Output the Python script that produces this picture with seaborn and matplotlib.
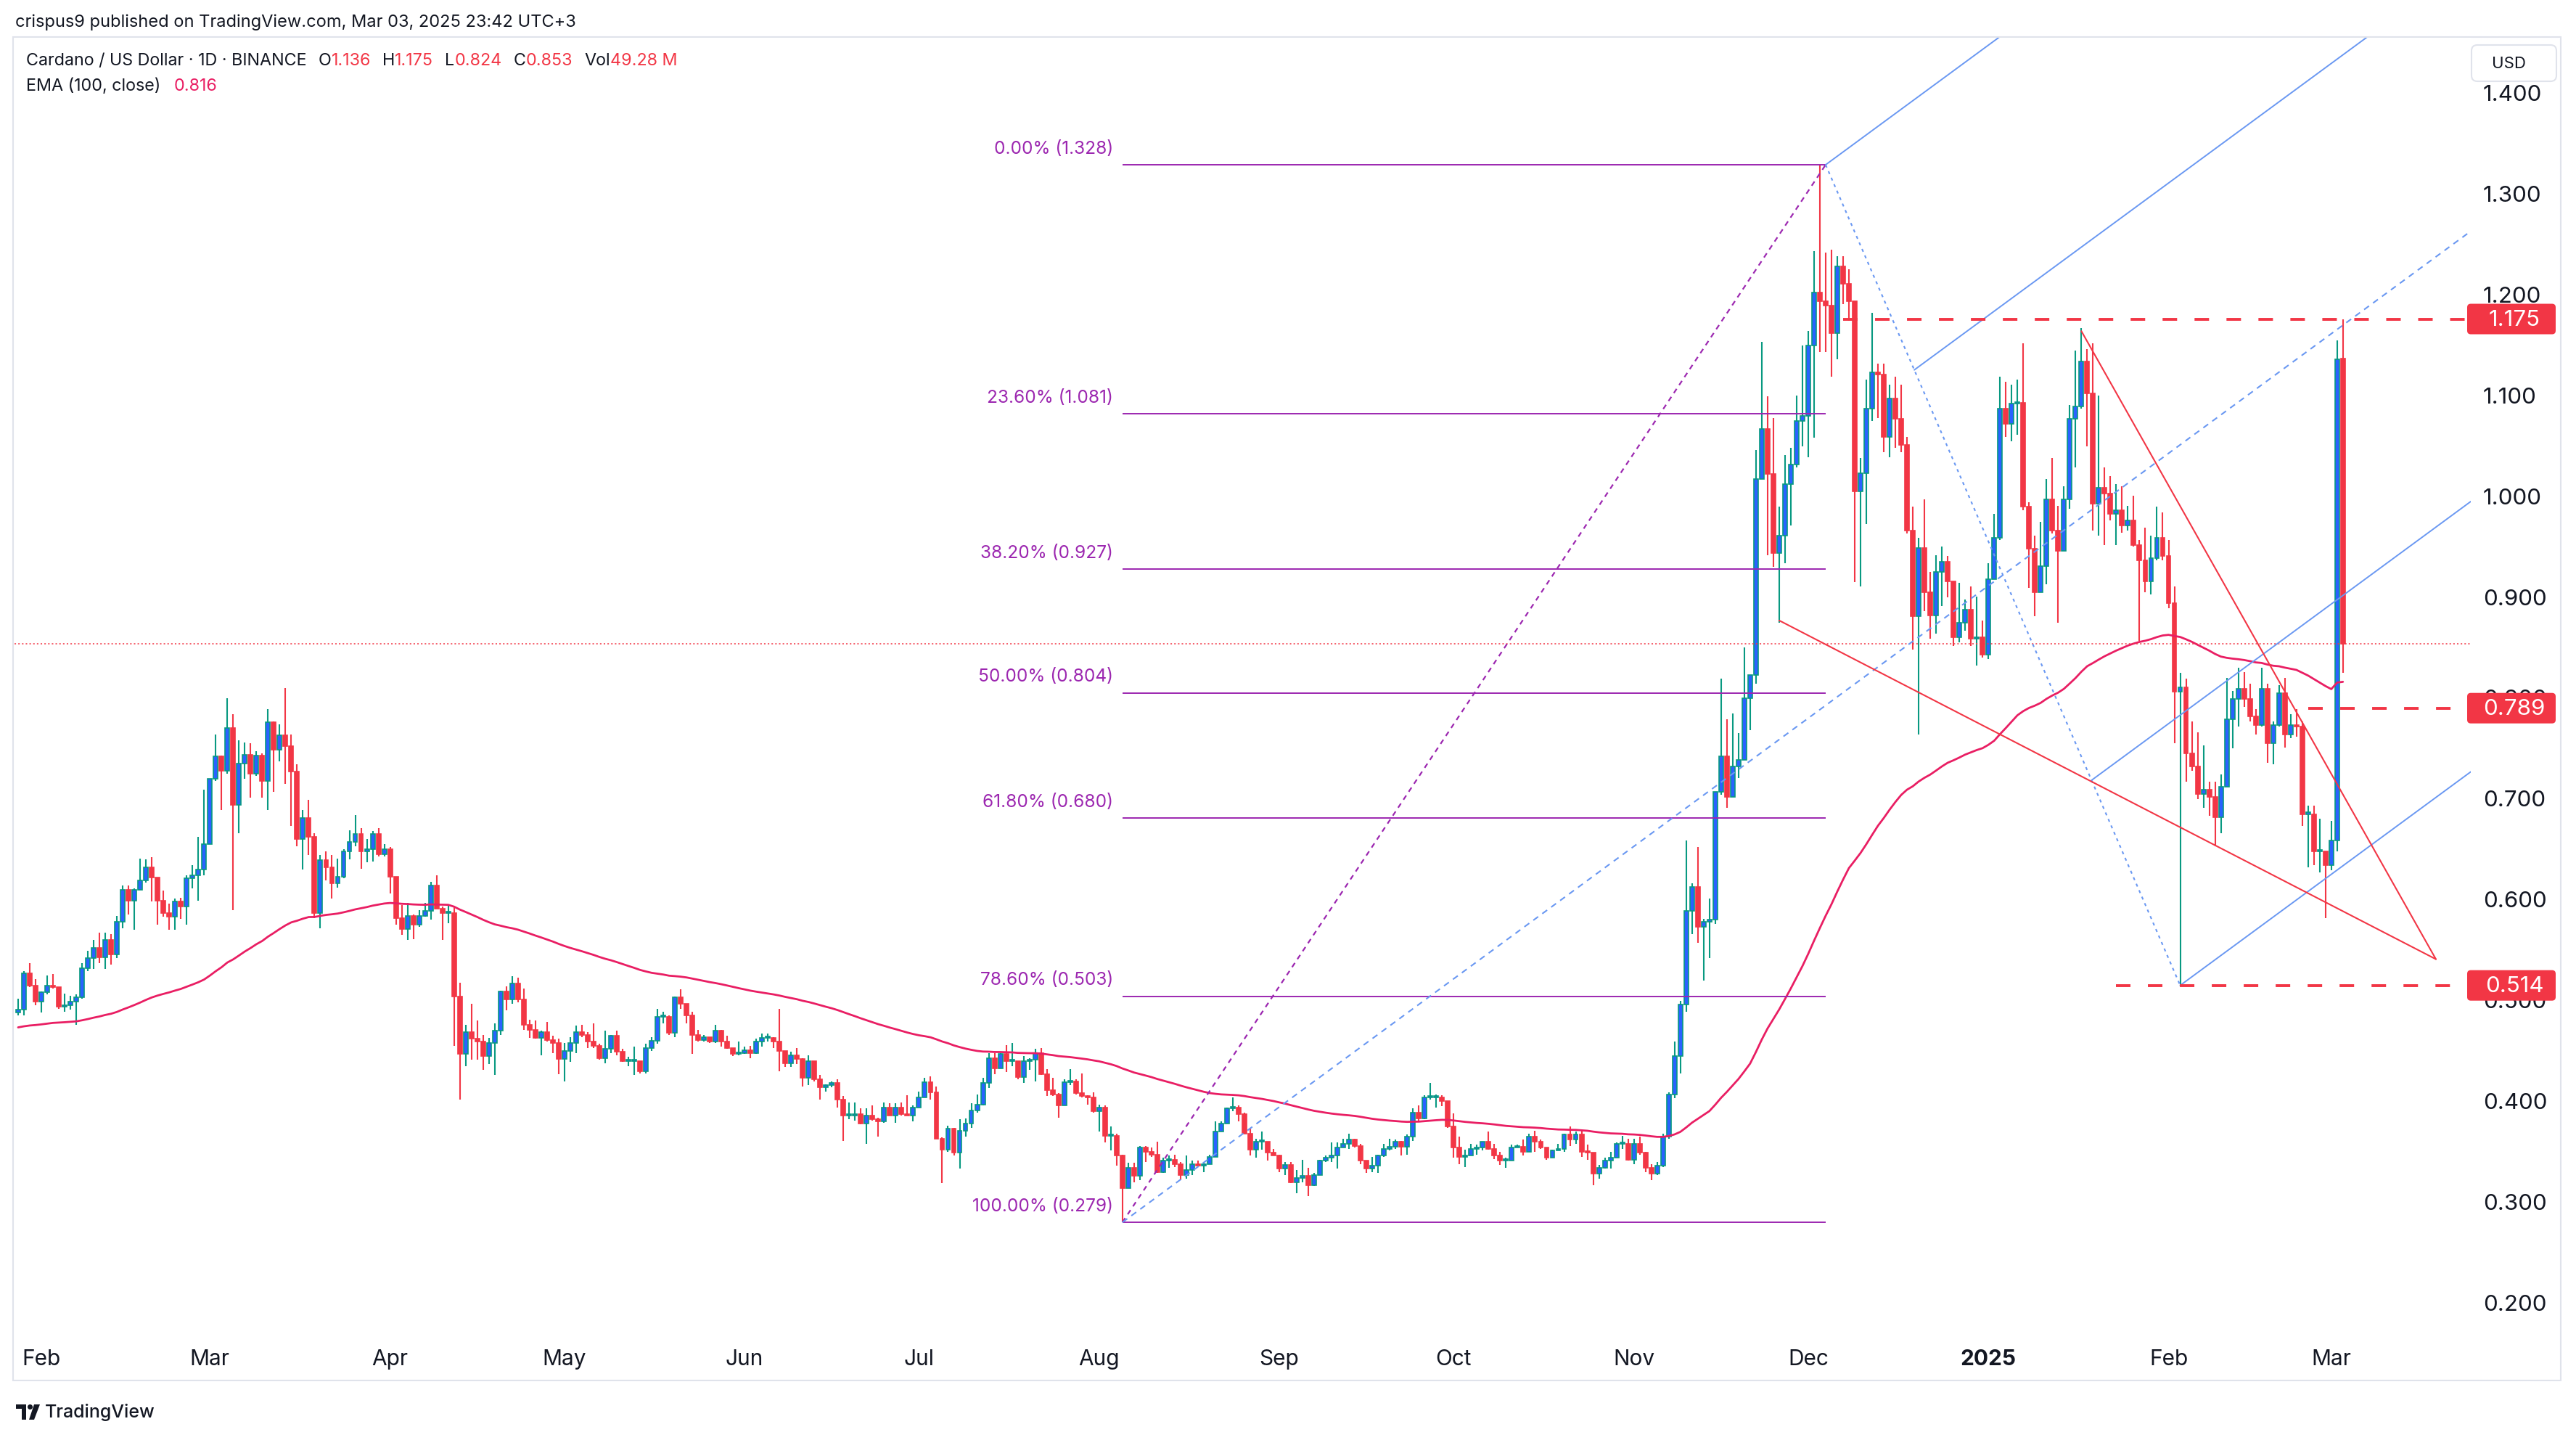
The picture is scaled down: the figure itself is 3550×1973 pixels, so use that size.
import matplotlib
matplotlib.use("Agg")
import matplotlib.pyplot as plt
import matplotlib.dates as mdates
from matplotlib.patches import Rectangle, FancyBboxPatch, Circle, Polygon
from matplotlib.transforms import IdentityTransform
import numpy as np
import pandas as pd
import seaborn as sns

# ---------------- daily candles (ADA/USD, Binance, 1D) ----------------
first_day = "2024-01-28"
first_open = 0.487
last_open = 1.136

jan24_close = [.490, .526, .514, .498]
jan24_high = [.501, .528, .536, .520]
jan24_low = [.484, .484, .512, .494]

feb24_close = [.507, .514, .512, .493, .494, .498, .502, .531, .541, .551, .542, .559, .545, .577, .609,
               .598, .609, .618, .631, .621, .598, .586, .582, .597, .592, .620, .623, .629, .654]
feb24_high = [.508, .524, .525, .512, .506, .504, .505, .536, .548, .559, .566, .566, .565, .583, .613,
              .613, .610, .640, .639, .641, .621, .608, .595, .600, .601, .623, .633, .661, .708]
feb24_low = [.487, .505, .511, .491, .488, .490, .475, .501, .528, .530, .536, .530, .535, .541, .571,
             .584, .569, .609, .616, .597, .574, .582, .569, .569, .580, .574, .610, .598, .623]

mar24_close = [.719, .741, .727, .769, .693, .734, .743, .724, .742, .717, .775, .748, .762, .751, .726, .659,
               .680, .661, .586, .638, .631, .615, .622, .647, .656, .664, .647, .649, .664, .644, .649]
mar24_high = [.719, .763, .742, .799, .783, .757, .755, .754, .746, .744, .788, .776, .773, .809, .763, .733,
              .688, .698, .665, .643, .647, .643, .640, .649, .668, .683, .670, .659, .667, .670, .654]
mar24_low = [.654, .717, .688, .724, .589, .665, .719, .700, .722, .700, .688, .706, .736, .714, .672, .652,
             .629, .643, .581, .571, .618, .600, .611, .620, .639, .652, .630, .636, .637, .642, .642]

apr24_close = [.622, .581, .570, .583, .574, .583, .588, .613, .590, .586, .586, .503, .446, .468, .461,
               .458, .444, .457, .469, .508, .500, .516, .500, .475, .470, .462, .468, .460, .457, .441]
apr24_high = [.651, .622, .594, .596, .584, .589, .596, .617, .623, .592, .594, .592, .517, .475, .496,
              .479, .465, .462, .476, .509, .513, .523, .522, .511, .480, .479, .469, .478, .464, .461]
apr24_low = [.605, .574, .564, .559, .560, .572, .582, .579, .590, .559, .576, .454, .401, .434, .440,
             .440, .430, .436, .425, .465, .489, .496, .497, .470, .462, .461, .445, .458, .447, .426]

may24_close = [.449, .457, .468, .465, .458, .454, .442, .451, .464, .448, .439, .439, .439, .429, .452, .459,
               .483, .483, .467, .502, .496, .484, .465, .460, .463, .458, .469, .458, .452, .446, .447]
may24_high = [.457, .463, .474, .475, .468, .476, .456, .469, .465, .469, .451, .443, .453, .439, .456, .463,
              .491, .488, .484, .503, .510, .496, .488, .470, .465, .463, .475, .470, .464, .452, .458]
may24_low = [.419, .438, .447, .463, .452, .452, .440, .437, .447, .445, .438, .434, .425, .427, .427, .449,
             .456, .476, .465, .463, .491, .476, .446, .458, .458, .457, .457, .453, .451, .444, .445]

jun24_close = [.450, .447, .458, .462, .462, .458, .449, .437, .445, .441, .422, .439, .421, .413, .415,
               .417, .401, .385, .385, .386, .377, .385, .381, .379, .393, .385, .393, .386, .385, .393]
jun24_high = [.453, .454, .461, .466, .466, .463, .491, .449, .448, .452, .442, .445, .439, .425, .416,
              .419, .421, .404, .398, .398, .392, .392, .395, .383, .398, .397, .397, .398, .405, .395]
jun24_low = [.446, .442, .446, .453, .458, .452, .429, .433, .433, .436, .414, .415, .419, .401, .409,
             .413, .393, .360, .381, .380, .376, .357, .380, .364, .378, .385, .378, .385, .385, .379]

jul24_close = [.403, .418, .408, .362, .351, .372, .348, .370, .377, .390, .396, .417, .442, .432, .446, .439,
               .439, .423, .439, .440, .447, .426, .410, .406, .395, .418, .419, .407, .404, .403, .389]
jul24_high = [.409, .422, .424, .414, .363, .375, .373, .381, .382, .397, .406, .422, .447, .447, .447, .455,
              .457, .439, .444, .442, .451, .452, .431, .422, .407, .421, .431, .421, .427, .405, .408]
jul24_low = [.393, .403, .401, .362, .318, .349, .345, .332, .364, .373, .388, .395, .412, .426, .432, .428,
             .434, .421, .417, .430, .419, .425, .404, .404, .383, .395, .415, .406, .403, .396, .388]

aug24_close = [.393, .365, .365, .345, .313, .333, .325, .353, .349, .346, .329, .340, .341, .337, .326, .331,
               .337, .335, .337, .344, .369, .377, .392, .393, .386, .367, .351, .359, .359, .348, .345]
aug24_high = [.396, .395, .374, .367, .346, .338, .338, .355, .355, .353, .359, .343, .345, .346, .339, .345,
              .340, .340, .339, .346, .379, .379, .393, .403, .395, .388, .373, .362, .369, .359, .352]
aug24_low = [.369, .358, .350, .335, .279, .313, .319, .321, .339, .344, .328, .328, .333, .334, .321, .322,
             .326, .334, .329, .337, .344, .369, .377, .389, .379, .367, .345, .343, .351, .340, .345]

sep24_close = [.332, .336, .319, .323, .325, .316, .326, .340, .343, .345, .353, .357, .361, .355, .340,
               .332, .335, .345, .352, .354, .359, .354, .364, .388, .382, .403, .403, .403, .399, .374]
sep24_high = [.346, .339, .339, .331, .341, .333, .328, .341, .345, .358, .358, .362, .367, .362, .357,
              .339, .344, .346, .357, .362, .361, .360, .366, .392, .395, .405, .417, .406, .405, .399]
sep24_low = [.329, .326, .318, .308, .319, .305, .315, .326, .339, .339, .332, .353, .352, .353, .337,
             .328, .329, .328, .344, .350, .352, .345, .346, .360, .379, .381, .401, .393, .394, .373]

oct24_close = [.353, .344, .345, .352, .353, .359, .352, .345, .340, .340, .353, .354, .349, .364, .359, .353,
               .343, .350, .352, .366, .361, .366, .349, .348, .327, .333, .340, .343, .357, .357, .341]
oct24_high = [.387, .364, .351, .357, .356, .359, .369, .357, .349, .343, .356, .356, .361, .367, .370, .361,
              .353, .351, .357, .367, .374, .369, .370, .356, .348, .336, .343, .349, .358, .365, .362]
oct24_low = [.343, .337, .334, .345, .346, .350, .351, .342, .336, .333, .340, .353, .345, .349, .349, .352,
             .341, .343, .350, .349, .355, .357, .344, .341, .316, .322, .332, .332, .345, .352, .340]

nov24_close = [.357, .348, .333, .327, .335, .364, .406, .444, .495, .588, .612, .572, .577, .579, .706,
               .741, .701, .731, .738, .799, .822, 1.016, 1.066, 1.021, .943, .960, 1.011, 1.031, 1.074, 1.079]
nov24_high = [.362, .364, .349, .337, .339, .367, .408, .458, .499, .658, .615, .651, .580, .600, .706,
              .818, .778, .784, .764, .849, .822, 1.045, 1.152, 1.098, 1.077, .989, 1.040, 1.047, 1.099, 1.149]
nov24_low = [.337, .346, .329, .321, .326, .334, .362, .402, .427, .488, .565, .556, .519, .541, .575,
             .703, .690, .701, .720, .738, .767, .813, 1.016, .941, .929, .874, .933, .970, 1.028, 1.049]

dec24_close = [1.149, 1.201, 1.193, 1.188, 1.161, 1.227, 1.210, 1.193, 1.004, 1.022, 1.086, 1.122, 1.120, 1.058,
               1.096, 1.076, 1.050, .965, .880, .948, .904, .881, .924, .934, .915, .859, .874, .887, .858, .859, .842]
dec24_high = [1.163, 1.242, 1.328, 1.241, 1.244, 1.237, 1.237, 1.224, 1.193, 1.037, 1.115, 1.181, 1.131, 1.131,
              1.110, 1.118, 1.110, 1.058, .989, .958, .996, .924, .941, .949, .940, .915, .913, .897, .910, .900, .876]
dec24_low = [1.038, 1.057, 1.142, 1.142, 1.118, 1.135, 1.190, 1.173, .914, .910, .972, 1.074, 1.077, 1.043,
             1.038, 1.047, 1.043, .962, .847, .763, .885, .858, .863, .890, .899, .851, .854, .866, .851, .831, .839]

jan25_close = [.917, .958, 1.086, 1.071, 1.091, 1.092, .989, .947, .904, .930, .996, .965, .945, .996, 1.076, 1.088,
               1.133, 1.101, .992, 1.008, 1.002, .982, .985, .970, .975, .951, .936, .915, .938, .958, .940]
jan25_high = [.933, .982, 1.118, 1.113, 1.110, 1.115, 1.151, .993, .960, .974, 1.016, 1.037, .990, 1.009, 1.090, 1.144,
              1.166, 1.145, 1.151, 1.099, 1.028, 1.019, 1.011, 1.009, .990, 1.000, .956, .968, .960, .989, .983]
jan25_low = [.838, .917, .956, 1.058, 1.054, 1.060, .985, .908, .880, .904, .912, .962, .874, .945, .987, 1.028,
             1.086, 1.049, .965, .960, .951, .975, .951, .963, .965, .949, .856, .904, .902, .936, .936]

feb25_close = [.893, .805, .810, .744, .731, .704, .708, .701, .681, .711, .778, .798, .808, .798,
               .781, .772, .808, .754, .772, .804, .763, .772, .771, .684, .684, .647, .647, .633]
feb25_high = [.956, .910, .824, .818, .776, .765, .752, .716, .716, .723, .819, .806, .829, .825,
              .813, .788, .829, .813, .776, .812, .819, .783, .788, .776, .692, .692, .679, .647]
feb25_low = [.888, .754, .513, .716, .727, .699, .690, .682, .652, .665, .711, .749, .771, .790,
             .776, .763, .771, .735, .733, .771, .750, .759, .761, .672, .631, .633, .626, .581]

mar25_close = [.658, 1.135, .853]
mar25_high = [.677, 1.154, 1.175]
mar25_low = [.628, .647, .824]

ema_seed = 0.472   # EMA(100) value just before the first visible candle

# drawings
fib_pct = [0.0, 23.6, 38.2, 50.0, 61.8, 78.6, 100.0]
fib_val = [1.328, 1.081, 0.927, 0.804, 0.680, 0.503, 0.279]
point_a = ("2024-08-05", 0.279)
point_b = ("2024-12-04", 1.328)
point_c = ("2025-02-03", 0.514)
wedge_upper = ("2025-01-17", 1.163)
wedge_lower = ("2024-11-26", 0.876)
wedge_apex = ("2025-03-19", 0.540)
levels = [1.175, 0.789, 0.514]
level_start = ["2024-12-07", "2025-02-25", "2025-01-23"]
last_price = 0.853

month_ticks = pd.date_range("2024-02-01", "2025-03-01", freq="MS")
month_labels = ["Feb", "Mar", "Apr", "May", "Jun", "Jul", "Aug", "Sep", "Oct", "Nov", "Dec", "2025", "Feb", "Mar"]
price_ticks = [0.2, 0.3, 0.4, 0.5, 0.6, 0.7, 0.8, 0.9, 1.0, 1.1, 1.2, 1.3, 1.4]

# ---------------- colours ----------------
GREEN = "#089981"
RED = "#F23645"
BLUE = "#2962FF"
EMA_COL = "#E91E63"
PURPLE = "#9C27B0"
PF_BLUE = "#6A98F2"
DARK = "#131722"

W, H = 3550, 1974
AXIS_FS = 22.5

sns.set_theme(style="white")
plt.rcParams["font.family"] = ["Inter", "DejaVu Sans"]
plt.rcParams["lines.scale_dashes"] = False

close = np.array(jan24_close + feb24_close + mar24_close + apr24_close + may24_close + jun24_close +
                 jul24_close + aug24_close + sep24_close + oct24_close + nov24_close + dec24_close +
                 jan25_close + feb25_close + mar25_close)
high = np.array(jan24_high + feb24_high + mar24_high + apr24_high + may24_high + jun24_high +
                jul24_high + aug24_high + sep24_high + oct24_high + nov24_high + dec24_high +
                jan25_high + feb25_high + mar25_high)
low = np.array(jan24_low + feb24_low + mar24_low + apr24_low + may24_low + jun24_low +
               jul24_low + aug24_low + sep24_low + oct24_low + nov24_low + dec24_low +
               jan25_low + feb25_low + mar25_low)
dates = pd.date_range(first_day, periods=len(close), freq="D")
opens = np.concatenate([[first_open], close[:-1]])
opens[-1] = last_open
high = np.maximum(high, np.maximum(opens, close))
low = np.minimum(low, np.minimum(opens, close))

alpha = 2 / (100 + 1)
ema = []
prev = ema_seed
for c in close:
    prev = prev + alpha * (c - prev)
    ema.append(prev)

fig = plt.figure(figsize=(W / 100, H / 100), dpi=100)
fig.patch.set_facecolor("white")
ax = fig.add_axes([20 / W, 1 - 1834 / H, 3385 / W, (1834 - 53) / H])
ax.set_facecolor("white")

x = mdates.date2num(dates)
base = mdates.date2num(pd.Timestamp("2024-02-01"))
x_left, x_right = base - 4.62, base + 418.0

def dn(s):
    return mdates.date2num(pd.Timestamp(s))

# candles
up = close >= opens
body_lo = np.minimum(opens, close)
body_h = np.maximum(np.abs(close - opens), 0.0015)
ax.vlines(x, low, high, colors=np.where(up, GREEN, RED), linewidth=1.5, zorder=2)
ax.bar(x[up], body_h[up], bottom=body_lo[up], width=0.74, color=BLUE, edgecolor=GREEN,
       linewidth=1.2, zorder=3)
ax.bar(x[~up], body_h[~up], bottom=body_lo[~up], width=0.74, color=RED, edgecolor=RED,
       linewidth=1.2, zorder=3)

# EMA 100
sns.lineplot(x=x, y=ema, ax=ax, color=EMA_COL, linewidth=2.0, zorder=4, legend=False)

# last price dotted line
ax.axhline(last_price, color=RED, linewidth=1.1, linestyle=(0, (1.5, 2.2)), zorder=4)

# fibonacci retracement
xa, pa = dn(point_a[0]), point_a[1]
xb, pb = dn(point_b[0]), point_b[1]
xc, pc = dn(point_c[0]), point_c[1]
ax.hlines(fib_val, xa, xb, colors=PURPLE, linewidth=1.4, zorder=5)
for pct, v in zip(fib_pct, fib_val):
    ax.annotate(f"{pct:.2f}% ({v:.3f})", (xa, v), xytext=(-13, 23), textcoords="offset pixels",
                ha="right", va="center", color=PURPLE, fontsize=17.6, zorder=6)
ax.plot([xa, xb], [pa, pb], color=PURPLE, linewidth=1.6, linestyle=(0, (5, 4.5)), zorder=5)

# pitchfork
mid_x, mid_p = (xb + xc) / 2, (pb + pc) / 2
slope = (mid_p - pa) / (mid_x - xa)
ax.plot([xa, x_right], [pa, pa + slope * (x_right - xa)], color=PF_BLUE, linewidth=1.5,
        linestyle=(0, (6, 5)), zorder=5)
ax.plot([xb, xc], [pb, pc], color=PF_BLUE, linewidth=1.5, linestyle=(0, (3, 4)), zorder=5)
for frac in [0.0, 0.25, 0.75, 1.0]:
    sx = xb + frac * (xc - xb)
    sp = pb + frac * (pc - pb)
    ax.plot([sx, x_right], [sp, sp + slope * (x_right - sx)], color=PF_BLUE, linewidth=1.4, zorder=5)

# falling wedge
for start in [wedge_upper, wedge_lower]:
    ax.plot([dn(start[0]), dn(wedge_apex[0])], [start[1], wedge_apex[1]], color=RED,
            linewidth=1.5, zorder=5)

# horizontal levels
for lv, st in zip(levels, level_start):
    ax.hlines(lv, dn(st), x_right, colors=RED, linewidth=2.8, linestyles=[(0, (14.4, 17.3))], zorder=5)

ax.set_xlim(x_left, x_right)
ax.set_ylim(0.1718, 1.454)
ax.set_xlabel("")
ax.set_ylabel("")
for sp_ in ax.spines.values():
    sp_.set_visible(False)
ax.grid(False)

ax.yaxis.tick_right()
ax.set_yticks(price_ticks)
ax.set_yticklabels([f"{v:.3f}" for v in price_ticks])
ax.tick_params(axis="y", length=0, pad=12, labelsize=AXIS_FS, labelcolor=DARK)
ax.set_xticks(mdates.date2num(month_ticks))
ax.set_xticklabels(month_labels)
ax.tick_params(axis="x", length=0, pad=18, labelsize=21.5, labelcolor=DARK)
for lab in ax.get_xticklabels():
    if lab.get_text() == "2025":
        lab.set_fontweight("bold")

# price tags on the axis
for lv in levels:
    yp = ax.transData.transform((x_right, lv))[1]
    fig.add_artist(FancyBboxPatch((3400, yp - 21), 122, 42, boxstyle="round,pad=0,rounding_size=5",
                                  transform=IdentityTransform(), fc=RED, ec="none", zorder=10))
    fig.text(3465, yp, f"{lv:.3f}", transform=IdentityTransform(), color="white", fontsize=AXIS_FS,
             ha="center", va="center", zorder=11)

fig.add_artist(FancyBboxPatch((3406, H - 113), 117, 50, boxstyle="round,pad=0,rounding_size=8",
                              transform=IdentityTransform(), fc="white", ec="#E0E3EB", lw=1.5, zorder=10))
fig.text(3458, H - 88, "USD", transform=IdentityTransform(), color=DARK, fontsize=16,
         ha="center", va="center", zorder=11)

# chart frame
fig.add_artist(Rectangle((18, H - 1903), 3511, 1851, transform=IdentityTransform(), fill=False,
                         ec="#E0E3EB", lw=1.5, zorder=0))

# header lines
renderer = fig.canvas.get_renderer()

def text_row(pieces, x0, y0, size):
    xp = x0
    for s, col, gap in pieces:
        t = fig.text(xp, H - y0, s, transform=IdentityTransform(), color=col, fontsize=size,
                     ha="left", va="center", zorder=12)
        xp = xp + t.get_window_extent(renderer).width + gap

text_row([("crispus9 published on TradingView.com, Mar 03, 2025 23:42 UTC+3", DARK, 0)], 21, 31, 17.0)
text_row([("Cardano / US Dollar · 1D · BINANCE", DARK, 16), ("O", DARK, 0), ("1.136", RED, 16),
          ("H", DARK, 0), ("1.175", RED, 16), ("L", DARK, 0), ("0.824", RED, 16),
          ("C", DARK, 0), ("0.853", RED, 16), ("Vol", DARK, 0), ("49.28 M", RED, 0)], 36, 84, 16.8)
text_row([("EMA (100, close)", DARK, 18), ("0.816", EMA_COL, 0)], 36, 119, 16.8)

# footer logo
fig.add_artist(Rectangle((22, H - 1942), 14, 6, transform=IdentityTransform(), fc=DARK, ec="none"))
fig.add_artist(Rectangle((30, H - 1957), 6, 21, transform=IdentityTransform(), fc=DARK, ec="none"))
fig.add_artist(Circle((41.5, H - 1939.5), 3.5, transform=IdentityTransform(), fc=DARK, ec="none"))
fig.add_artist(Polygon([(47, H - 1936), (55, H - 1936), (47, H - 1957), (40, H - 1957)],
                       transform=IdentityTransform(), fc=DARK, ec="none"))
fig.text(62, H - 1946, "TradingView", transform=IdentityTransform(), color=DARK, fontsize=18,
         fontweight="medium", ha="left", va="center")

fig.savefig("out.png", dpi=100, facecolor="white")
